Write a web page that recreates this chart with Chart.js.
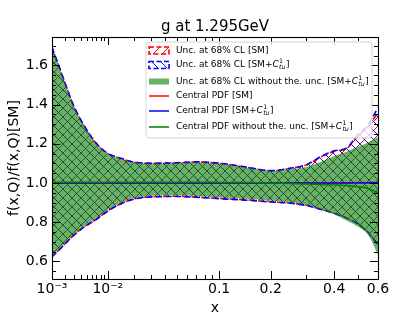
<!DOCTYPE html>
<html>
<head>
<meta charset="utf-8">
<script src="https://cdn.jsdelivr.net/npm/chart.js@4.4.1/dist/chart.umd.min.js"></script>
<style>
  html, body { margin: 0; padding: 0; background: #fff; }
  #wrap { width: 420px; height: 315px; }
</style>
</head>
<body>
<div id="wrap"><canvas id="chart" width="420" height="315"></canvas></div>
<script>
'use strict';

// x grid
var xs = [0.001, 0.0015, 0.002, 0.003, 0.005, 0.007, 0.01, 0.015, 0.02, 0.03, 0.05, 0.07,
          0.1, 0.15, 0.2, 0.25, 0.3, 0.35, 0.4, 0.45, 0.5, 0.55, 0.6];

// 68% CL band [SM]
var sm_hi = [1.690, 1.590, 1.510, 1.390, 1.270, 1.200, 1.150, 1.123, 1.106, 1.100, 1.102, 1.107,
             1.100, 1.079, 1.062, 1.074, 1.092, 1.133, 1.162, 1.175, 1.240, 1.290, 1.360];
var sm_lo = [0.625, 0.660, 0.690, 0.735, 0.785, 0.815, 0.858, 0.898, 0.918, 0.930, 0.932, 0.928,
             0.921, 0.913, 0.904, 0.898, 0.886, 0.866, 0.846, 0.822, 0.793, 0.748, 0.682];

// 68% CL band [SM+C]
var c_hi = [1.692, 1.592, 1.511, 1.391, 1.271, 1.201, 1.151, 1.124, 1.107, 1.101, 1.103, 1.108,
            1.101, 1.080, 1.063, 1.075, 1.093, 1.135, 1.164, 1.178, 1.245, 1.296, 1.385];
var c_lo = [0.624, 0.659, 0.689, 0.734, 0.784, 0.814, 0.857, 0.897, 0.917, 0.929, 0.931, 0.927,
            0.920, 0.912, 0.903, 0.897, 0.885, 0.865, 0.845, 0.821, 0.792, 0.746, 0.684];

// 68% CL band without theory unc. [SM+C]
var nt_hi = [1.688, 1.588, 1.508, 1.388, 1.268, 1.198, 1.148, 1.121, 1.104, 1.098, 1.100, 1.105,
             1.098, 1.077, 1.060, 1.070, 1.082, 1.108, 1.138, 1.160, 1.185, 1.207, 1.235];
var nt_lo = [0.628, 0.663, 0.694, 0.739, 0.790, 0.820, 0.863, 0.903, 0.923, 0.935, 0.937, 0.933,
             0.926, 0.918, 0.909, 0.902, 0.889, 0.866, 0.840, 0.808, 0.778, 0.735, 0.635];

// central values
var cen_sm = [1, 1, 1, 1, 1, 1, 1, 1, 1, 1, 1, 1, 1, 1, 1, 1, 1, 1, 1, 1, 1, 1, 1];
var cen_c  = [1, 1, 1, 1, 1, 1, 1, 1, 1, 1, 1, 1, 1, 1, 1, 1, 1, 1, 1, 1, 1.001, 1.001, 1.002];
var cen_nt = [1.004, 1.004, 1.004, 1.004, 1.004, 1.004, 1.004, 1.004, 1.004, 1.004, 1.004, 1.004,
              1.003, 1.002, 1.000, 0.997, 0.995, 0.992, 0.990, 0.987, 0.981, 0.972, 0.950];

// axis ticks
var x_major = [0.001, 0.01, 0.1, 0.2, 0.4, 0.6];
var x_major_labels = ['10\u207B\u00B3', '10\u207B\u00B2', '0.1', '0.2', '0.4', '0.6'];
var x_minor = [0.002, 0.003, 0.004, 0.005, 0.006, 0.007, 0.008, 0.009,
               0.02, 0.03, 0.04, 0.05, 0.06, 0.07, 0.08, 0.09, 0.3, 0.5];
var y_major = [0.6, 0.8, 1.0, 1.2, 1.4, 1.6];
var y_minor = [0.55, 0.65, 0.7, 0.75, 0.85, 0.9, 0.95, 1.05, 1.1, 1.15, 1.25, 1.3, 1.35,
               1.45, 1.5, 1.55, 1.65, 1.7];

// the x axis is drawn on a x^0.3 scale
var XPOW = 0.3;
var fx = function(x) { return Math.pow(x, XPOW); };
var pts = function(ys) { return xs.map(function(x, i) { return {x: fx(x), y: ys[i]}; }); };

var FONT = 'DejaVu Sans';
var canvas = document.getElementById('chart');
var ctx = canvas.getContext('2d');

function hatch(color, dir) {
    var s = 9;
    var c = document.createElement('canvas');
    c.width = s; c.height = s;
    var g = c.getContext('2d');
    g.strokeStyle = color;
    g.lineWidth = 1;
    g.beginPath();
    if (dir > 0) {
        g.moveTo(-1, s + 1); g.lineTo(s + 1, -1);
        g.moveTo(-1, 1); g.lineTo(1, -1);
        g.moveTo(s - 1, s + 1); g.lineTo(s + 1, s - 1);
    } else {
        g.moveTo(-1, -1); g.lineTo(s + 1, s + 1);
        g.moveTo(s - 1, -1); g.lineTo(s + 1, 1);
        g.moveTo(-1, s - 1); g.lineTo(1, s + 1);
    }
    g.stroke();
    return ctx.createPattern(c, 'repeat');
}

var red_hatch = hatch('#ff0000', 1);
var blue_hatch = hatch('#0000ff', -1);
var green_fill = 'rgba(0,128,0,0.6)';

function edge(data, color, dash, off, fill, bg, order) {
    return {
        data: pts(data), borderColor: color, borderWidth: 1.6, borderDash: dash, borderDashOffset: off,
        fill: fill, backgroundColor: bg, pointRadius: 0, cubicInterpolationMode: 'monotone', order: order
    };
}

var datasets = [
    edge(sm_hi, '#ff0000', [6, 3.5], 2.5, '+1', red_hatch, 9),
    edge(sm_lo, '#ff0000', [6, 3.5], 2.5, false, 'transparent', 8),
    edge(c_hi, '#0000ff', [6, 3.5], 0, '+1', blue_hatch, 7),
    edge(c_lo, '#0000ff', [6, 3.5], 0, false, 'transparent', 6),
    {data: pts(nt_hi), borderWidth: 0, borderColor: 'transparent', fill: '+1', backgroundColor: green_fill,
     pointRadius: 0, cubicInterpolationMode: 'monotone', order: 5},
    {data: pts(nt_lo), borderWidth: 0, borderColor: 'transparent', fill: false,
     pointRadius: 0, cubicInterpolationMode: 'monotone', order: 4},
    {data: pts(cen_sm), borderColor: '#ff0000', borderWidth: 1.5, pointRadius: 0, fill: false, order: 3},
    {data: pts(cen_c), borderColor: '#0000ff', borderWidth: 1.5, pointRadius: 0, fill: false, order: 2},
    {data: pts(cen_nt), borderColor: '#008000', borderWidth: 1.5, pointRadius: 0, fill: false,
     cubicInterpolationMode: 'monotone', order: 1}
];

// legend rows: kind, colour, text, whether it ends in [SM+C]
var legend_rows = [
    {kind: 'patch', color: '#ff0000', pattern: red_hatch, text: 'Unc. at 68% CL [SM', coef: false, y: 50.5},
    {kind: 'patch', color: '#0000ff', pattern: blue_hatch, text: 'Unc. at 68% CL [SM+', coef: true, y: 65},
    {kind: 'solid', color: green_fill, text: 'Unc. at 68% CL without the. unc. [SM+', coef: true, y: 81.5},
    {kind: 'line', color: '#ff0000', text: 'Central PDF [SM', coef: false, y: 96},
    {kind: 'line', color: '#0000ff', text: 'Central PDF [SM+', coef: true, y: 111},
    {kind: 'line', color: '#008000', text: 'Central PDF without the. unc. [SM+', coef: true, y: 127}
];

function draw_legend(c) {
    var bx = 146, by = 42, bw = 226, bh = 96, r = 3;
    c.save();
    c.beginPath();
    c.moveTo(bx + r, by);
    c.arcTo(bx + bw, by, bx + bw, by + bh, r);
    c.arcTo(bx + bw, by + bh, bx, by + bh, r);
    c.arcTo(bx, by + bh, bx, by, r);
    c.arcTo(bx, by, bx + bw, by, r);
    c.closePath();
    c.fillStyle = 'rgba(255,255,255,0.8)';
    c.fill();
    c.strokeStyle = '#d4d4d4';
    c.lineWidth = 1;
    c.stroke();

    legend_rows.forEach(function(row) {
        var hx = 149, hw = 20, y = row.y;
        if (row.kind === 'patch') {
            c.fillStyle = '#fff';
            c.fillRect(hx, y - 3.5, hw, 7);
            c.fillStyle = row.pattern;
            c.fillRect(hx, y - 3.5, hw, 7);
            c.setLineDash([5, 2.5]);
            c.strokeStyle = row.color;
            c.lineWidth = 1.6;
            c.strokeRect(hx, y - 3.5, hw, 7);
            c.setLineDash([]);
        } else if (row.kind === 'solid') {
            c.fillStyle = row.color;
            c.fillRect(hx, y - 3, hw, 6);
        } else {
            c.strokeStyle = row.color;
            c.lineWidth = 1.5;
            c.beginPath();
            c.moveTo(hx, y); c.lineTo(hx + hw, y);
            c.stroke();
        }
        var tx = 176;
        c.fillStyle = '#000';
        c.textBaseline = 'middle';
        c.textAlign = 'left';
        c.font = '9px "' + FONT + '"';
        c.fillText(row.text, tx, y);
        tx += c.measureText(row.text).width;
        if (row.coef) {
            c.font = 'italic 9px "' + FONT + '"';
            c.fillText('C', tx, y);
            tx += c.measureText('C').width + 0.3;
            c.font = '6.3px "' + FONT + '"';
            c.fillText('1', tx, y - 3.6);
            var w1 = c.measureText('1').width;
            c.font = 'italic 6.3px "' + FONT + '"';
            c.fillText('tu', tx, y + 2.6);
            var w2 = c.measureText('tu').width;
            tx += Math.max(w1, w2) + 0.5;
            c.font = '9px "' + FONT + '"';
        }
        c.fillText(']', tx, y);
    });
    c.restore();
}

var frame_plugin = {
    id: 'frame',
    afterDatasetsDraw: function(chart) {
        var c = chart.ctx, a = chart.chartArea, sx = chart.scales.x, sy = chart.scales.y;
        c.save();
        c.strokeStyle = '#000';
        c.lineWidth = 1;
        c.beginPath();
        var xt = function(v, len) {
            var p = Math.round(sx.getPixelForValue(fx(v))) + 0.5;
            c.moveTo(p, a.bottom); c.lineTo(p, a.bottom - len);
            c.moveTo(p, a.top); c.lineTo(p, a.top + len);
        };
        var yt = function(v, len) {
            var p = Math.round(sy.getPixelForValue(v)) + 0.5;
            c.moveTo(a.left, p); c.lineTo(a.left + len, p);
            c.moveTo(a.right, p); c.lineTo(a.right - len, p);
        };
        x_major.forEach(function(v) { xt(v, 8); });
        x_minor.forEach(function(v) { xt(v, 4); });
        y_major.forEach(function(v) { yt(v, 8); });
        y_minor.forEach(function(v) { yt(v, 4); });
        c.stroke();
        c.lineWidth = 1.1;
        c.strokeRect(Math.round(a.left) + 0.5, Math.round(a.top) + 0.5,
                     Math.round(a.right - a.left), Math.round(a.bottom - a.top));
        c.restore();
        draw_legend(c);
    }
};

var chart = new Chart(ctx, {
    type: 'line',
    data: {datasets: datasets},
    options: {
        responsive: false,
        animation: false,
        layout: {padding: {left: 0, right: 42, top: 0, bottom: 0}},
        plugins: {
            legend: {display: false},
            tooltip: {enabled: false},
            title: {
                display: true, text: 'g at 1.295GeV', fullSize: false, color: '#000',
                font: {family: FONT, size: 15, weight: 'normal'},
                padding: {top: 18, bottom: 1}
            }
        },
        scales: {
            x: {
                type: 'linear',
                min: fx(0.001),
                max: fx(0.6),
                grid: {display: false, drawTicks: false},
                border: {display: false},
                afterBuildTicks: function(s) {
                    s.ticks = x_major.map(function(v) { return {value: fx(v)}; });
                },
                afterFit: function(s) { s.height = 36; },
                ticks: {
                    autoSkip: false, maxRotation: 0, padding: 2, color: '#000',
                    font: {family: FONT, size: 14},
                    callback: function(v, i) { return x_major_labels[i]; }
                },
                title: {display: true, text: 'x', color: '#000', font: {family: FONT, size: 14, lineHeight: 1},
                        padding: {top: 0, bottom: 0}}
            },
            y: {
                min: 0.51,
                max: 1.745,
                grid: {display: false, drawTicks: false},
                border: {display: false},
                afterBuildTicks: function(s) {
                    s.ticks = y_major.map(function(v) { return {value: v}; });
                },
                afterFit: function(s) { s.width = 52; },
                ticks: {
                    padding: 4, color: '#000',
                    font: {family: FONT, size: 14},
                    callback: function(v) { return v.toFixed(1); }
                },
                title: {display: true, text: 'f(x,Q)/f(x,Q)[SM]', color: '#000',
                        font: {family: FONT, size: 14}, padding: {top: 5.6, bottom: 0}}
            }
        }
    },
    plugins: [frame_plugin]
});
</script>
</body>
</html>
